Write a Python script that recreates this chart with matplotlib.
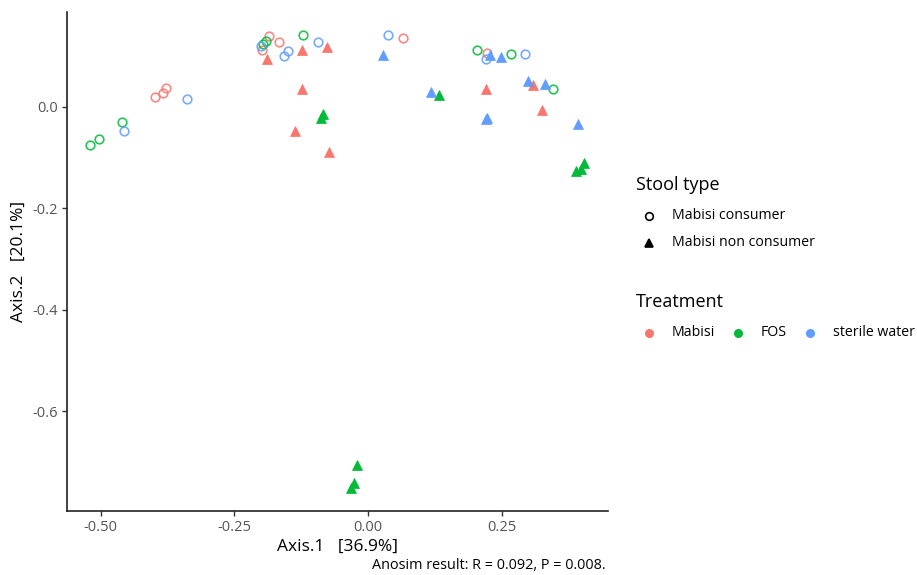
import numpy as np
import matplotlib.pyplot as plt
from matplotlib.lines import Line2D

plt.rcParams['font.family'] = ['Open Sans', 'DejaVu Sans']

# PCoA coordinates, grouped by treatment and stool type
mabisi_consumer_x = [-0.399, -0.383, -0.379, -0.198, -0.185, -0.166, 0.066, 0.223]
mabisi_consumer_y = [0.019, 0.027, 0.036, 0.111, 0.139, 0.128, 0.135, 0.105]
mabisi_nonconsumer_x = [-0.190, -0.124, -0.077, -0.123, -0.137, -0.074, 0.220, 0.309, 0.326]
mabisi_nonconsumer_y = [0.093, 0.111, 0.118, 0.034, -0.048, -0.089, 0.034, 0.042, -0.007]

fos_consumer_x = [-0.520, -0.503, -0.461, -0.197, -0.191, -0.121, 0.204, 0.267, 0.346]
fos_consumer_y = [-0.075, -0.064, -0.030, 0.123, 0.129, 0.142, 0.111, 0.103, 0.035]
fos_nonconsumer_x = [-0.084, -0.088, 0.133, 0.404, 0.398, 0.389, -0.020, -0.026, -0.032]
fos_nonconsumer_y = [-0.014, -0.022, 0.023, -0.111, -0.123, -0.126, -0.706, -0.742, -0.752]

water_consumer_x = [-0.339, -0.457, -0.200, -0.158, -0.150, -0.094, 0.037, 0.221, 0.294]
water_consumer_y = [0.015, -0.048, 0.120, 0.099, 0.110, 0.127, 0.142, 0.093, 0.103]
water_nonconsumer_x = [0.028, 0.228, 0.249, 0.117, 0.221, 0.223, 0.299, 0.331, 0.392]
water_nonconsumer_y = [0.102, 0.102, 0.098, 0.029, -0.025, -0.022, 0.050, 0.045, -0.034]

treatments = ['Mabisi', 'FOS', 'sterile water']
stool_types = ['Mabisi consumer', 'Mabisi non consumer']
colors = ['#F8766D', '#00BA38', '#619CFF']

groups = [
    (mabisi_consumer_x, mabisi_consumer_y, mabisi_nonconsumer_x, mabisi_nonconsumer_y),
    (fos_consumer_x, fos_consumer_y, fos_nonconsumer_x, fos_nonconsumer_y),
    (water_consumer_x, water_consumer_y, water_nonconsumer_x, water_nonconsumer_y),
]

fig = plt.figure(figsize=(9.17, 5.75), dpi=100)
ax = fig.add_axes([0.0727, 0.1113, 0.5903, 0.8684])

for (cx, cy, nx, ny), col in zip(groups, colors):
    ax.plot(cx, cy, 'o', ms=6.2, mfc='none', mec=col, mew=1.2, ls='none', alpha=0.85)
    ax.plot(nx, ny, '^', ms=7, mfc=col, mec=col, mew=0.5, ls='none')

ax.set_xlim(-0.564, 0.449)
ax.set_ylim(-0.797, 0.187)
ax.set_xticks([-0.50, -0.25, 0.00, 0.25])
ax.set_xticklabels(['-0.50', '-0.25', '0.00', '0.25'])
ax.set_yticks([0.0, -0.2, -0.4, -0.6])
ax.set_yticklabels(['0.0', '-0.2', '-0.4', '-0.6'])
for s in ['top', 'right']:
    ax.spines[s].set_visible(False)
for s in ['left', 'bottom']:
    ax.spines[s].set_linewidth(1.2)
    ax.spines[s].set_color('#222222')
ax.tick_params(length=3.5, width=1, color='#333333', labelcolor='#555555', labelsize=10.5, pad=3)

ax.set_xlabel('Axis.1   [36.9%]', fontsize=12.5, labelpad=3)
ax.set_ylabel('Axis.2   [20.1%]', fontsize=12.5, labelpad=4)
fig.text(0.66, 0.016, 'Anosim result: R = 0.092, P = 0.008.', ha='right', va='center', fontsize=10.4)

# legends drawn by hand at ggplot-like positions
W, H = 917, 575
def fx(px):
    return px / W
def fy(py):
    return 1 - py / H

fig.text(fx(636), fy(185), 'Stool type', fontsize=13, va='center')
key_y = [216, 243]
key_marks = ['o', '^']
for lab, m, yy in zip(stool_types, key_marks, key_y):
    mk = Line2D([fx(649)], [fy(yy)], marker=m, ms=5.5 if m == 'o' else 6,
                mfc='none' if m == 'o' else 'black', mec='black', mew=1.2,
                ls='none', transform=fig.transFigure)
    fig.add_artist(mk)
    fig.text(fx(672), fy(yy), lab, fontsize=10.2, va='center')

fig.text(fx(636), fy(302), 'Treatment', fontsize=13, va='center')
dot_x = [649, 738, 810]
text_x = [672, 761, 833]
for lab, col, dx, tx in zip(treatments, colors, dot_x, text_x):
    mk = Line2D([fx(dx)], [fy(333)], marker='o', ms=5.5, mfc=col, mec=col,
                ls='none', transform=fig.transFigure)
    fig.add_artist(mk)
    fig.text(fx(tx), fy(333), lab, fontsize=10.2, va='center')

fig.savefig('out.png', dpi=100)
